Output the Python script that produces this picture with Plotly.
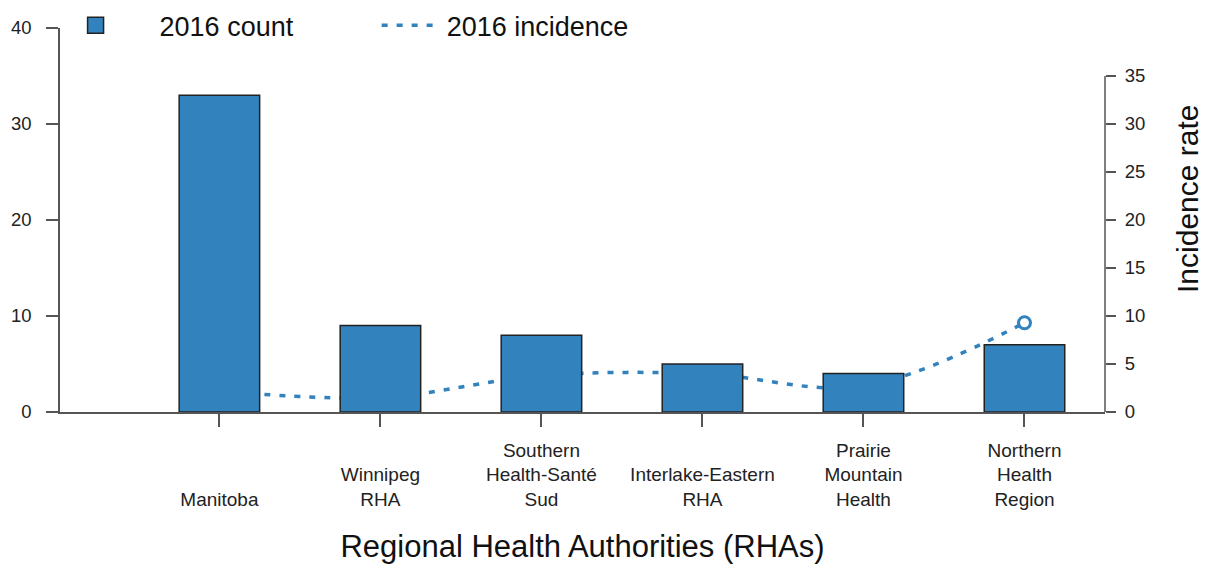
import plotly.graph_objects as go

categories = ["Manitoba", "Winnipeg RHA", "Southern Health-Santé Sud",
              "Interlake-Eastern RHA", "Prairie Mountain Health", "Northern Health Region"]
tick_labels = ["<br><br>Manitoba", "<br>Winnipeg<br>RHA", "Southern<br>Health-Santé<br>Sud",
               "<br>Interlake-Eastern<br>RHA", "Prairie<br>Mountain<br>Health",
               "Northern<br>Health<br>Region"]
count_2016 = [33, 9, 8, 5, 4, 7]
incidence_2016 = [2.2, 1.5, 3.8, 4.0, 2.7, 9.3]
count_ticks = [0, 10, 20, 30, 40]
incidence_ticks = [0, 5, 10, 15, 20, 25, 30, 35]

BLUE = "#3182bd"
AXIS = "#555555"
FONT = "Liberation Sans, Arial, sans-serif"

fig = go.Figure()

# incidence line (primary y, drawn beneath the bars)
fig.add_trace(go.Scatter(
    x=categories, y=incidence_2016, name="2016 incidence", mode="lines",
    line=dict(color=BLUE, width=3.5, dash="6px,9px", shape="spline"),
    yaxis="y", showlegend=True, legend="legend2",
))
fig.add_trace(go.Scatter(
    x=categories, y=incidence_2016, mode="markers", showlegend=False,
    marker=dict(symbol="circle-open", size=12, color=BLUE, line=dict(width=3, color=BLUE)),
    yaxis="y", hoverinfo="skip",
))
# legend entry for counts
fig.add_trace(go.Scatter(
    x=[None], y=[None], name="2016 count", mode="markers",
    marker=dict(symbol="square", size=20, color=BLUE, line=dict(color="#222222", width=1.5)),
    yaxis="y", showlegend=True, legend="legend",
))
# bars (overlay axis, drawn above the line)
fig.add_trace(go.Bar(
    x=categories, y=count_2016, name="2016 count", width=0.5,
    marker=dict(color=BLUE, line=dict(color="#222222", width=1.5)),
    yaxis="y2", showlegend=False,
))

legend_common = dict(orientation="h", y=1.070, xanchor="left", yanchor="top",
                     font=dict(size=27, family=FONT, color="#111111"),
                     bgcolor="rgba(0,0,0,0)")

fig.update_layout(
    width=1199, height=557,
    margin=dict(l=52, r=102, t=20, b=153, autoexpand=False),
    paper_bgcolor="white", plot_bgcolor="white",
    font=dict(family=FONT, color="#222222"),
    showlegend=True,
    legend=dict(x=-0.0272, itemwidth=118, **legend_common),
    legend2=dict(x=0.303, itemwidth=60, **legend_common),
    xaxis=dict(
        range=[-0.99, 5.5], tickmode="array", tickvals=categories, ticktext=tick_labels,
        showline=True, linecolor=AXIS, linewidth=1.5,
        ticks="outside", ticklen=13, tickwidth=1.5, tickcolor=AXIS,
        tickfont=dict(size=19, family=FONT, color="#222222"), ticklabelstandoff=7,
        showgrid=False, zeroline=False, automargin=False,
        title=dict(text="Regional Health Authorities (RHAs)",
                   font=dict(size=31, family=FONT, color="#111111"), standoff=26),
    ),
    yaxis=dict(
        side="right", range=[0, 40], tickmode="array", tickvals=incidence_ticks,
        ticks="outside", ticklen=10, tickwidth=1.5, tickcolor=AXIS,
        tickfont=dict(size=18.5, family=FONT, color="#222222"), ticklabelstandoff=5,
        showline=False, showgrid=False, zeroline=False, automargin=False,
    ),
    yaxis2=dict(
        side="left", overlaying="y", range=[0, 40], tickmode="array", tickvals=count_ticks,
        ticks="outside", ticklen=12, tickwidth=1.5, tickcolor=AXIS,
        tickfont=dict(size=18.5, family=FONT, color="#222222"), ticklabelstandoff=11,
        showline=True, linecolor=AXIS, linewidth=1.5, showgrid=False, zeroline=False,
        automargin=False,
    ),
    shapes=[dict(type="line", xref="paper", x0=1, x1=1, yref="y",
                 y0=incidence_ticks[0], y1=incidence_ticks[-1],
                 line=dict(color=AXIS, width=1.5))],
    annotations=[dict(text="Incidence rate", textangle=-90, xref="paper", yref="paper",
                      x=1.0794, y=0.5547, xanchor="center", yanchor="middle",
                      showarrow=False, font=dict(size=30, family=FONT, color="#111111"))],
)

fig.write_html("out.html")
